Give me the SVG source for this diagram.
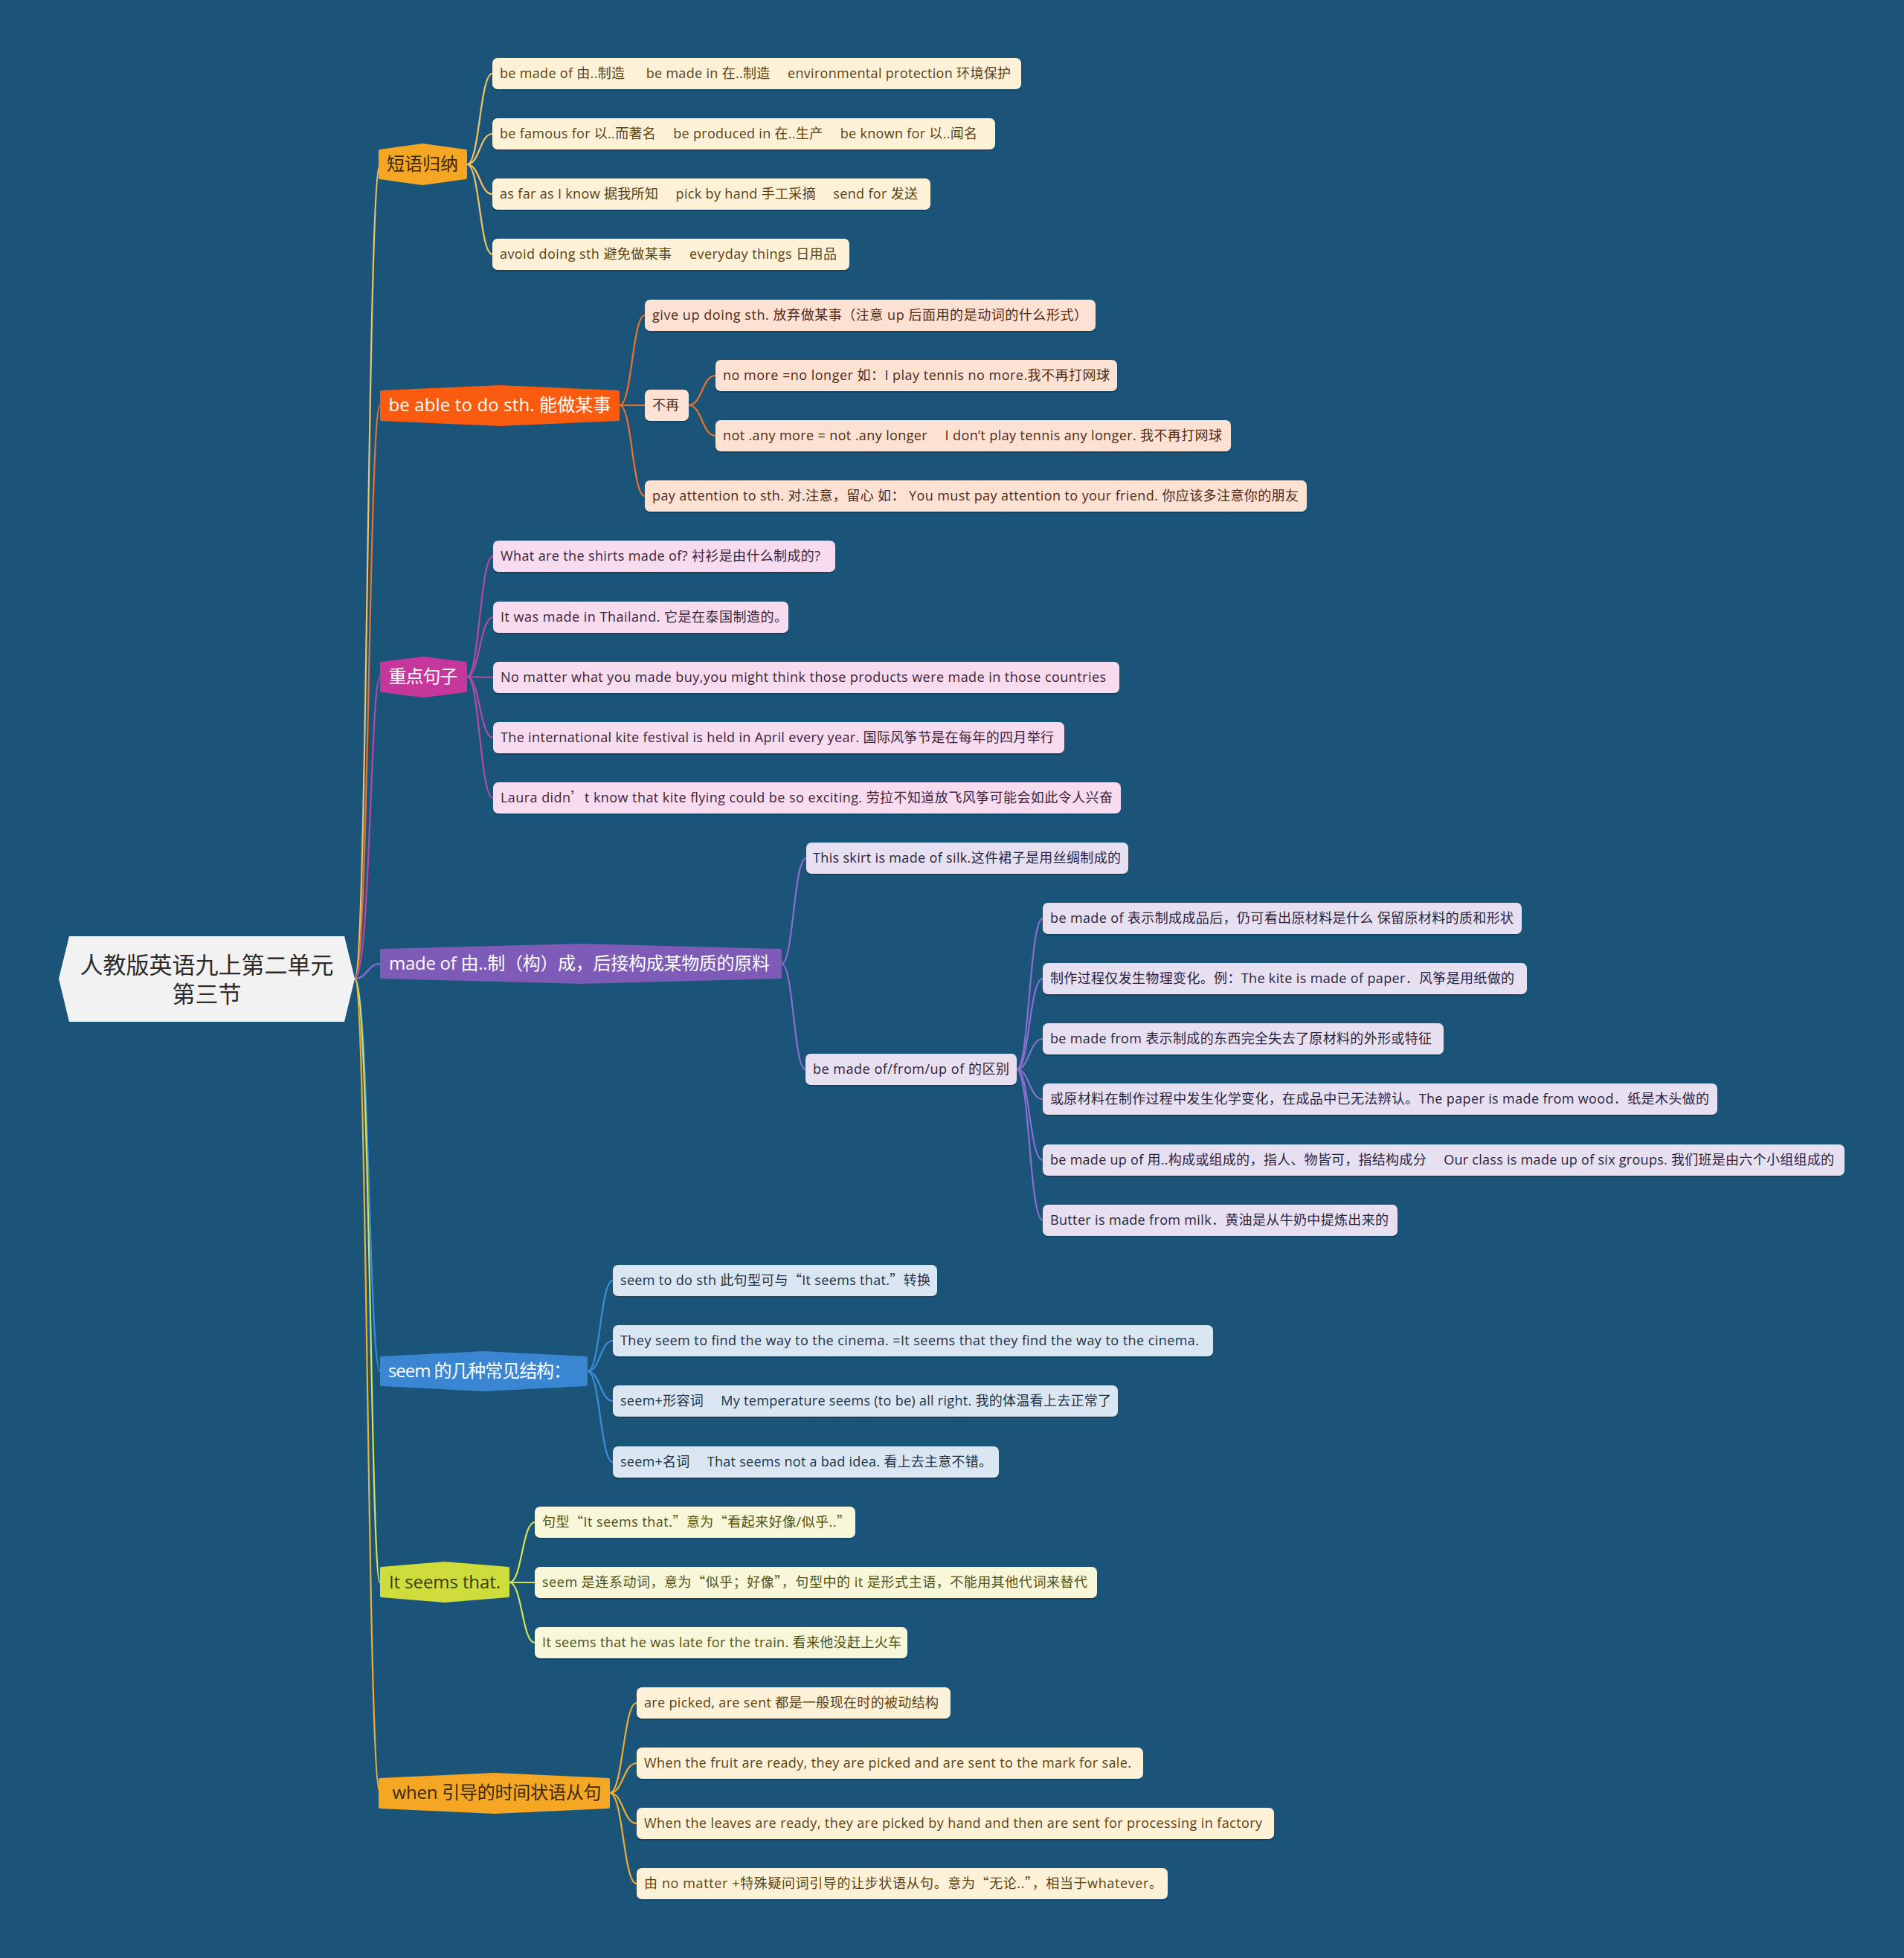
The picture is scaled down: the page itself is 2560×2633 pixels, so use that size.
<svg xmlns="http://www.w3.org/2000/svg" width="2560" height="2633" viewBox="0 0 2560 2633">
<style>
text{font-family:"Open Sans","Noto Sans CJK SC",sans-serif;}
.q{font-family:"Noto Sans CJK SC",sans-serif;}
.leaf text{font-size:18px;}
.main text{font-size:24px;text-anchor:middle;}
.sh{fill:#0f3550;opacity:0.55;}
.c path{fill:none;stroke-width:2.2;}
.g1 rect.b,.g7 rect.b{fill:#FDF1D8;} .g1 text,.g7 text{fill:#5B4313;}
.g2 rect.b{fill:#FDE2D3;} .g2 text{fill:#4E2A14;}
.g3 rect.b{fill:#F7DCEF;} .g3 text{fill:#3E1F38;}
.g4 rect.b{fill:#E6E0F0;} .g4 text{fill:#2C2342;}
.g5 rect.b{fill:#DAE7F3;} .g5 text{fill:#1E3147;}
.g6 rect.b{fill:#F8F7DA;} .g6 text{fill:#4F4F12;}
</style>
<rect x="0" y="0" width="2560" height="2633" fill="#1B5479"/>

<g id="connectors" class="c">
  <path d="M477,1316 C494,1316 494,221 511,221" stroke="#F2C266"/>
  <path d="M477,1316 C496,1316 496,545 511,545" stroke="#E9722F"/>
  <path d="M477,1316 C498,1316 498,910 511,910" stroke="#B648A6"/>
  <path d="M477,1316 C494,1316 494,1296 511,1296" stroke="#8A6FD0"/>
  <path d="M477,1316 C496,1316 496,1844 511,1844" stroke="#3D8DDB"/>
  <path d="M477,1316 C498,1316 498,2128 511,2128" stroke="#D2E25A"/>
  <path d="M477,1316 C494,1316 494,2411 511,2411" stroke="#EDAE33"/>
  <path d="M628,221 C645,221 645,99 662,99" stroke="#F2C266"/>
  <path d="M628,221 C645,221 645,180 662,180" stroke="#F2C266"/>
  <path d="M628,221 C645,221 645,261 662,261" stroke="#F2C266"/>
  <path d="M628,221 C645,221 645,342 662,342" stroke="#F2C266"/>
  <path d="M833,545 C850,545 850,424 867,424" stroke="#E9722F"/>
  <path d="M833,545 L867,545" stroke="#E9722F"/>
  <path d="M833,545 C850,545 850,667 867,667" stroke="#E9722F"/>
  <path d="M926,545 C944,545 944,505 962,505" stroke="#E9722F"/>
  <path d="M926,545 C944,545 944,586 962,586" stroke="#E9722F"/>
  <path d="M628,910 C645,910 645,748 663,748" stroke="#B648A6"/>
  <path d="M628,910 C645,910 645,830 663,830" stroke="#B648A6"/>
  <path d="M628,910 L663,911" stroke="#B648A6"/>
  <path d="M628,910 C645,910 645,992 663,992" stroke="#B648A6"/>
  <path d="M628,910 C645,910 645,1073 663,1073" stroke="#B648A6"/>
  <path d="M1051,1296 C1067,1296 1067,1154 1084,1154" stroke="#8A6FD0"/>
  <path d="M1051,1296 C1067,1296 1067,1438 1083,1438" stroke="#8A6FD0"/>
  <path d="M1367,1438 C1384,1438 1384,1235 1402,1235" stroke="#8A6FD0"/>
  <path d="M1367,1438 C1384,1438 1384,1316 1402,1316" stroke="#8A6FD0"/>
  <path d="M1367,1438 C1384,1438 1384,1397 1402,1397" stroke="#8A6FD0"/>
  <path d="M1367,1438 C1384,1438 1384,1478 1402,1478" stroke="#8A6FD0"/>
  <path d="M1367,1438 C1384,1438 1384,1560 1402,1560" stroke="#8A6FD0"/>
  <path d="M1367,1438 C1384,1438 1384,1641 1402,1641" stroke="#8A6FD0"/>
  <path d="M790,1844 C807,1844 807,1722 824,1722" stroke="#3D8DDB"/>
  <path d="M790,1844 C807,1844 807,1803 824,1803" stroke="#3D8DDB"/>
  <path d="M790,1844 C807,1844 807,1884 824,1884" stroke="#3D8DDB"/>
  <path d="M790,1844 C807,1844 807,1966 824,1966" stroke="#3D8DDB"/>
  <path d="M685,2128 C702,2128 702,2047 719,2047" stroke="#D2E25A"/>
  <path d="M685,2128 L719,2128" stroke="#D2E25A"/>
  <path d="M685,2128 C702,2128 702,2209 719,2209" stroke="#D2E25A"/>
  <path d="M820,2411 C838,2411 838,2290 856,2290" stroke="#EDAE33"/>
  <path d="M820,2411 C838,2411 838,2371 856,2371" stroke="#EDAE33"/>
  <path d="M820,2411 C838,2411 838,2452 856,2452" stroke="#EDAE33"/>
  <path d="M820,2411 C838,2411 838,2533 856,2533" stroke="#EDAE33"/>
</g>

<g id="root">
  <polygon points="79,1316 93,1259 463,1259 477,1316 463,1374 93,1374" fill="#F2F2F2"/>
  <text x="278" y="1309" font-size="31" text-anchor="middle" fill="#2b2b2b">人教版英语九上第二单元</text>
  <text x="278" y="1348" font-size="31" text-anchor="middle" fill="#2b2b2b">第三节</text>
</g>

<g id="n-duanyu" class="main">
  <polygon points="511,203 568,195 626,203 626,239 568,247 511,239" fill="#F5A623" stroke="#F5A623" stroke-width="4" stroke-linejoin="round"/>
  <text x="568" y="229" fill="#3B2A05" textLength="96">短语归纳</text>
</g>
<g id="n-beable" class="main">
  <polygon points="513,527 672,520 831,527 831,564 672,571 513,564" fill="#FA5B0F" stroke="#FA5B0F" stroke-width="4" stroke-linejoin="round"/>
  <text x="672" y="553" fill="#ffffff" textLength="299">be able to do sth. 能做某事</text>
</g>
<g id="n-zhongdian" class="main">
  <polygon points="513,892 569,885 626,892 626,929 569,936 513,929" fill="#C6379B" stroke="#C6379B" stroke-width="4" stroke-linejoin="round"/>
  <text x="569" y="918" fill="#ffffff" textLength="93">重点句子</text>
</g>
<g id="n-madeof" class="main">
  <polygon points="513,1278 781,1271 1049,1278 1049,1314 781,1321 513,1314" fill="#7D5BB6" stroke="#7D5BB6" stroke-width="4" stroke-linejoin="round"/>
  <text x="779" y="1304" fill="#ffffff" textLength="512">made of 由..制（构）成，后接构成某物质的原料</text>
</g>
<g id="n-seem" class="main">
  <polygon points="513,1826 650,1819 788,1826 788,1862 650,1869 513,1862" fill="#3A86D3" stroke="#3A86D3" stroke-width="4" stroke-linejoin="round"/>
  <text x="645" y="1852" fill="#ffffff" textLength="246">seem 的几种常见结构：</text>
</g>
<g id="n-itseems" class="main">
  <polygon points="513,2109 598,2102 683,2109 683,2146 598,2153 513,2146" fill="#CEDC3C" stroke="#CEDC3C" stroke-width="4" stroke-linejoin="round"/>
  <text x="598" y="2136" fill="#3d3d0a" textLength="150">It seems that.</text>
</g>
<g id="n-when" class="main">
  <polygon points="511,2393 665,2386 818,2393 818,2430 665,2437 511,2430" fill="#F5A623" stroke="#F5A623" stroke-width="4" stroke-linejoin="round"/>
  <text x="668" y="2419" fill="#3B2A05" textLength="281">when 引导的时间状语从句</text>
</g>

<g id="g1" class="leaf g1">
  <g id="l1-1"><rect class="sh" x="662" y="80" width="711" height="42" rx="7"/><rect class="b" x="662" y="78" width="711" height="42" rx="7"/><text x="672" y="105" textLength="687">be made of 由..制造 　 be made in 在..制造 　environmental protection 环境保护</text></g>
  <g id="l1-2"><rect class="sh" x="662" y="161" width="676" height="42" rx="7"/><rect class="b" x="662" y="159" width="676" height="42" rx="7"/><text x="672" y="186" textLength="642">be famous for 以..而著名 　be produced in 在..生产 　be known for 以..闻名</text></g>
  <g id="l1-3"><rect class="sh" x="662" y="242" width="589" height="42" rx="7"/><rect class="b" x="662" y="240" width="589" height="42" rx="7"/><text x="672" y="267" textLength="562">as far as I know 据我所知 　pick by hand 手工采摘 　send for 发送</text></g>
  <g id="l1-4"><rect class="sh" x="662" y="323" width="480" height="42" rx="7"/><rect class="b" x="662" y="321" width="480" height="42" rx="7"/><text x="672" y="348" textLength="453">avoid doing sth 避免做某事 　everyday things 日用品</text></g>
</g>

<g id="g2" class="leaf g2">
  <g id="l2-1"><rect class="sh" x="867" y="405" width="606" height="42" rx="7"/><rect class="b" x="867" y="403" width="606" height="42" rx="7"/><text x="877" y="430" textLength="585">give up doing sth. 放弃做某事（注意 up 后面用的是动词的什么形式）</text></g>
  <g id="l2-2"><rect class="sh" x="867" y="526" width="59" height="42" rx="7"/><rect class="b" x="867" y="524" width="59" height="42" rx="7"/><text x="877" y="551">不再</text></g>
  <g id="l2-3"><rect class="sh" x="962" y="486" width="540" height="42" rx="7"/><rect class="b" x="962" y="484" width="540" height="42" rx="7"/><text x="972" y="511" textLength="520">no more =no longer 如：I play tennis no more.我不再打网球</text></g>
  <g id="l2-4"><rect class="sh" x="962" y="567" width="693" height="42" rx="7"/><rect class="b" x="962" y="565" width="693" height="42" rx="7"/><text x="972" y="592" textLength="671">not .any more = not .any longer 　I don’t play tennis any longer. 我不再打网球</text></g>
  <g id="l2-5"><rect class="sh" x="867" y="648" width="890" height="42" rx="7"/><rect class="b" x="867" y="646" width="890" height="42" rx="7"/><text x="877" y="673" textLength="869">pay attention to sth. 对.注意，留心 如： You must pay attention to your friend. 你应该多注意你的朋友</text></g>
</g>

<g id="g3" class="leaf g3">
  <g id="l3-1"><rect class="sh" x="663" y="729" width="460" height="42" rx="7"/><rect class="b" x="663" y="727" width="460" height="42" rx="7"/><text x="673" y="754" textLength="430">What are the shirts made of? 衬衫是由什么制成的?</text></g>
  <g id="l3-2"><rect class="sh" x="663" y="811" width="397" height="42" rx="7"/><rect class="b" x="663" y="809" width="397" height="42" rx="7"/><text x="673" y="836" textLength="386">It was made in Thailand. 它是在泰国制造的。</text></g>
  <g id="l3-3"><rect class="sh" x="663" y="892" width="842" height="42" rx="7"/><rect class="b" x="663" y="890" width="842" height="42" rx="7"/><text x="673" y="917" textLength="814">No matter what you made buy,you might think those products were made in those countries</text></g>
  <g id="l3-4"><rect class="sh" x="663" y="973" width="768" height="42" rx="7"/><rect class="b" x="663" y="971" width="768" height="42" rx="7"/><text x="673" y="998" textLength="744">The international kite festival is held in April every year. 国际风筝节是在每年的四月举行</text></g>
  <g id="l3-5"><rect class="sh" x="663" y="1054" width="844" height="42" rx="7"/><rect class="b" x="663" y="1052" width="844" height="42" rx="7"/><text x="673" y="1079" textLength="823">Laura didn<tspan class="q">’</tspan>t know that kite flying could be so exciting. 劳拉不知道放飞风筝可能会如此令人兴奋</text></g>
</g>

<g id="g4" class="leaf g4">
  <g id="l4-1"><rect class="sh" x="1084" y="1135" width="433" height="42" rx="7"/><rect class="b" x="1084" y="1133" width="433" height="42" rx="7"/><text x="1093" y="1160" textLength="414">This skirt is made of silk.这件裙子是用丝绸制成的</text></g>
  <g id="l4-2"><rect class="sh" x="1083" y="1419" width="284" height="42" rx="7"/><rect class="b" x="1083" y="1417" width="284" height="42" rx="7"/><text x="1093" y="1444" textLength="264">be made of/from/up of 的区别</text></g>
  <g id="l4-3"><rect class="sh" x="1402" y="1216" width="644" height="42" rx="7"/><rect class="b" x="1402" y="1214" width="644" height="42" rx="7"/><text x="1412" y="1241" textLength="623">be made of 表示制成成品后，仍可看出原材料是什么 保留原材料的质和形状</text></g>
  <g id="l4-4"><rect class="sh" x="1402" y="1297" width="651" height="42" rx="7"/><rect class="b" x="1402" y="1295" width="651" height="42" rx="7"/><text x="1412" y="1322" textLength="624">制作过程仅发生物理变化。例：The kite is made of paper．风筝是用纸做的</text></g>
  <g id="l4-5"><rect class="sh" x="1402" y="1378" width="539" height="42" rx="7"/><rect class="b" x="1402" y="1376" width="539" height="42" rx="7"/><text x="1412" y="1403" textLength="513">be made from 表示制成的东西完全失去了原材料的外形或特征</text></g>
  <g id="l4-6"><rect class="sh" x="1402" y="1459" width="907" height="42" rx="7"/><rect class="b" x="1402" y="1457" width="907" height="42" rx="7"/><text x="1412" y="1484" textLength="886">或原材料在制作过程中发生化学变化，在成品中已无法辨认。The paper is made from wood．纸是木头做的</text></g>
  <g id="l4-7"><rect class="sh" x="1402" y="1541" width="1078" height="42" rx="7"/><rect class="b" x="1402" y="1539" width="1078" height="42" rx="7"/><text x="1412" y="1566" textLength="1054">be made up of 用..构成或组成的，指人、物皆可，指结构成分 　Our class is made up of six groups. 我们班是由六个小组组成的</text></g>
  <g id="l4-8"><rect class="sh" x="1402" y="1622" width="477" height="42" rx="7"/><rect class="b" x="1402" y="1620" width="477" height="42" rx="7"/><text x="1412" y="1647" textLength="455">Butter is made from milk．黄油是从牛奶中提炼出来的</text></g>
</g>

<g id="g5" class="leaf g5">
  <g id="l5-1"><rect class="sh" x="824" y="1703" width="436" height="42" rx="7"/><rect class="b" x="824" y="1701" width="436" height="42" rx="7"/><text x="834" y="1728" textLength="417">seem to do sth 此句型可与<tspan class="q">“</tspan>It seems that.<tspan class="q">”</tspan>转换</text></g>
  <g id="l5-2"><rect class="sh" x="824" y="1784" width="807" height="42" rx="7"/><rect class="b" x="824" y="1782" width="807" height="42" rx="7"/><text x="834" y="1809" textLength="778">They seem to find the way to the cinema. =It seems that they find the way to the cinema.</text></g>
  <g id="l5-3"><rect class="sh" x="824" y="1865" width="679" height="42" rx="7"/><rect class="b" x="824" y="1863" width="679" height="42" rx="7"/><text x="834" y="1890" textLength="660">seem+形容词 　My temperature seems (to be) all right. 我的体温看上去正常了</text></g>
  <g id="l5-4"><rect class="sh" x="824" y="1947" width="519" height="42" rx="7"/><rect class="b" x="824" y="1945" width="519" height="42" rx="7"/><text x="834" y="1972" textLength="500">seem+名词 　That seems not a bad idea. 看上去主意不错。</text></g>
</g>

<g id="g6" class="leaf g6">
  <g id="l6-1"><rect class="sh" x="719" y="2028" width="431" height="42" rx="7"/><rect class="b" x="719" y="2026" width="431" height="42" rx="7"/><text x="729" y="2053" textLength="414">句型<tspan class="q">“</tspan>It seems that.<tspan class="q">”</tspan>意为<tspan class="q">“</tspan>看起来好像/似乎..<tspan class="q">”</tspan></text></g>
  <g id="l6-2"><rect class="sh" x="719" y="2109" width="756" height="42" rx="7"/><rect class="b" x="719" y="2107" width="756" height="42" rx="7"/><text x="729" y="2134" textLength="733">seem 是连系动词，意为<tspan class="q">“</tspan>似乎；好像<tspan class="q">”</tspan>，句型中的 it 是形式主语，不能用其他代词来替代</text></g>
  <g id="l6-3"><rect class="sh" x="719" y="2190" width="501" height="42" rx="7"/><rect class="b" x="719" y="2188" width="501" height="42" rx="7"/><text x="729" y="2215" textLength="483">It seems that he was late for the train. 看来他没赶上火车</text></g>
</g>

<g id="g7" class="leaf g7">
  <g id="l7-1"><rect class="sh" x="856" y="2271" width="422" height="42" rx="7"/><rect class="b" x="856" y="2269" width="422" height="42" rx="7"/><text x="866" y="2296" textLength="396">are picked, are sent 都是一般现在时的被动结构</text></g>
  <g id="l7-2"><rect class="sh" x="856" y="2352" width="681" height="42" rx="7"/><rect class="b" x="856" y="2350" width="681" height="42" rx="7"/><text x="866" y="2377" textLength="655">When the fruit are ready, they are picked and are sent to the mark for sale.</text></g>
  <g id="l7-3"><rect class="sh" x="856" y="2433" width="857" height="42" rx="7"/><rect class="b" x="856" y="2431" width="857" height="42" rx="7"/><text x="866" y="2458" textLength="831">When the leaves are ready, they are picked by hand and then are sent for processing in factory</text></g>
  <g id="l7-4"><rect class="sh" x="856" y="2514" width="714" height="42" rx="7"/><rect class="b" x="856" y="2512" width="714" height="42" rx="7"/><text x="866" y="2539" textLength="697">由 no matter +特殊疑问词引导的让步状语从句。意为<tspan class="q">“</tspan>无论..<tspan class="q">”</tspan>，相当于whatever。</text></g>
</g>
</svg>
